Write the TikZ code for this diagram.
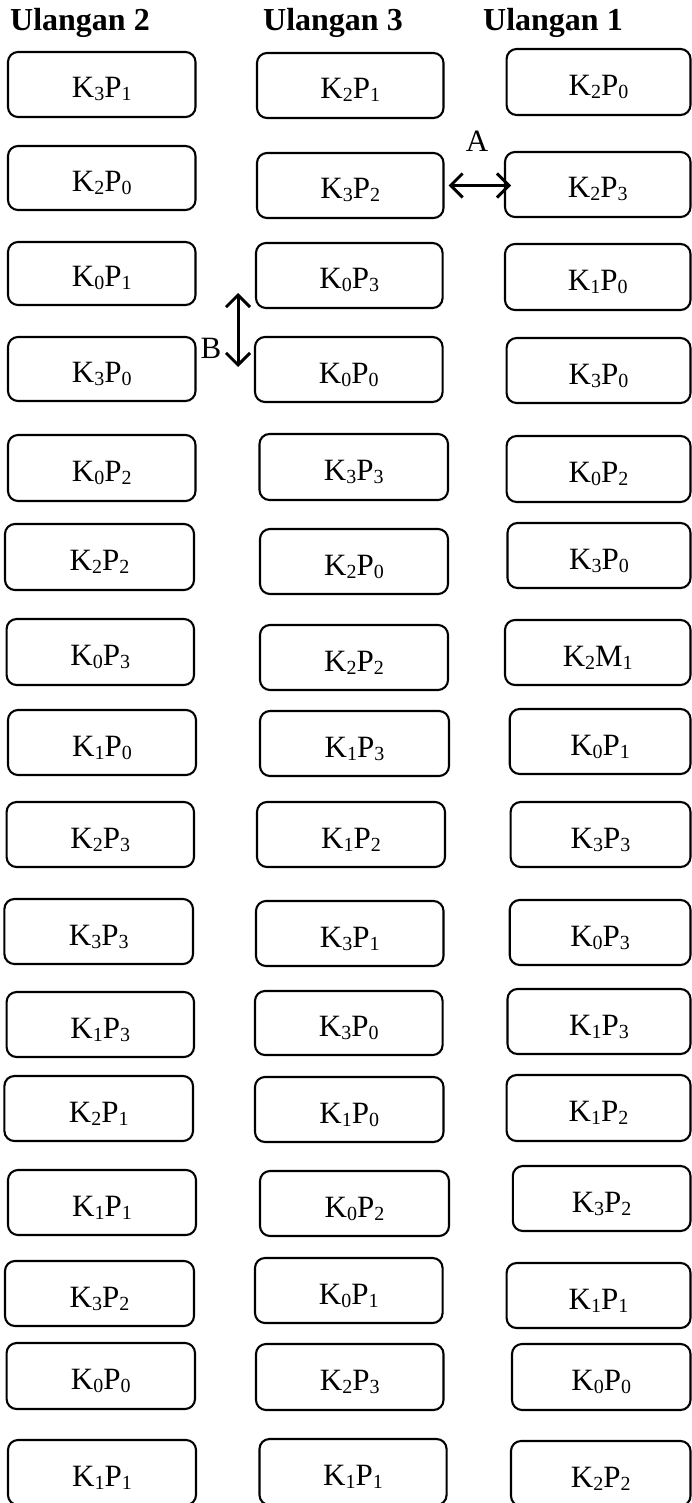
\documentclass[tikz,border=0pt]{standalone}
\usepackage{fontspec}
\setmainfont{Liberation Serif}
\usetikzlibrary{arrows.meta}
\newcommand\sbs[1]{\raisebox{-3pt}{\fontsize{20}{20}\selectfont #1}}
\tikzset{
  pbox/.style={draw, line width=2.1pt, rounded corners=10pt, inner sep=0pt, outer sep=0pt,
    anchor=north west, text height=27pt, text depth=0pt, font=\fontsize{31}{36}\selectfont},
  hdr/.style={anchor=base west, inner sep=0pt, font=\bfseries\fontsize{32}{38}\selectfont},
  lbl/.style={anchor=base, inner sep=0pt, font=\fontsize{31}{36}\selectfont},
  dblarrow/.style={line width=3pt, {Straight Barb[length=12pt,width=24pt]}-{Straight Barb[length=12pt,width=24pt]}}
}
\newcommand\ubox[6]{%
  \pgfmathsetmacro\bw{#4-#2}\pgfmathsetmacro\bh{#5-#3}%
  \node[pbox, minimum width=\bw pt, minimum height=\bh pt] (#1) at (#2,#3) {#6};}
\begin{document}
\begin{tikzpicture}[x=1pt,y=-1pt]
\useasboundingbox (0,0) rectangle (692,1503);
% headers
\node[hdr] (h2) at (10,31) {Ulangan 2};
\node[hdr] (h3) at (263,31) {Ulangan 3};
\node[hdr] (h1) at (483,31) {Ulangan 1};
% column Ulangan 2
\ubox{a1}{8}{52}{195.5}{117}{K\sbs{3}P\sbs{1}}
\ubox{a2}{8}{146}{195.5}{210}{K\sbs{2}P\sbs{0}}
\ubox{a3}{8}{242}{195.5}{305}{K\sbs{0}P\sbs{1}}
\ubox{a4}{8}{337}{195.5}{401}{K\sbs{3}P\sbs{0}}
\ubox{a5}{8}{435}{195.5}{501}{K\sbs{0}P\sbs{2}}
\ubox{a6}{5}{524}{194}{590}{K\sbs{2}P\sbs{2}}
\ubox{a7}{6.6}{619}{194}{685}{K\sbs{0}P\sbs{3}}
\ubox{a8}{8}{710}{196}{775}{K\sbs{1}P\sbs{0}}
\ubox{a9}{6.6}{802}{194}{867}{K\sbs{2}P\sbs{3}}
\ubox{a10}{4.4}{899}{193}{964}{K\sbs{3}P\sbs{3}}
\ubox{a11}{6.6}{992}{194}{1057}{K\sbs{1}P\sbs{3}}
\ubox{a12}{4.4}{1076}{193}{1141}{K\sbs{2}P\sbs{1}}
\ubox{a13}{8}{1170}{196}{1235}{K\sbs{1}P\sbs{1}}
\ubox{a14}{5}{1261}{194}{1326}{K\sbs{3}P\sbs{2}}
\ubox{a15}{6.6}{1343}{195}{1409}{K\sbs{0}P\sbs{0}}
\ubox{a16}{8}{1440}{196}{1505}{K\sbs{1}P\sbs{1}}
% column Ulangan 3
\ubox{b1}{257}{53}{443.5}{118}{K\sbs{2}P\sbs{1}}
\ubox{b2}{257}{153}{443.5}{218}{K\sbs{3}P\sbs{2}}
\ubox{b3}{256}{243}{442.6}{308}{K\sbs{0}P\sbs{3}}
\ubox{b4}{255}{337}{442.6}{402}{K\sbs{0}P\sbs{0}}
\ubox{b5}{259.5}{434}{448}{500}{K\sbs{3}P\sbs{3}}
\ubox{b6}{260}{529}{448}{594}{K\sbs{2}P\sbs{0}}
\ubox{b7}{260}{625}{448}{690}{K\sbs{2}P\sbs{2}}
\ubox{b8}{260}{711}{449}{776}{K\sbs{1}P\sbs{3}}
\ubox{b9}{257}{802}{445}{867}{K\sbs{1}P\sbs{2}}
\ubox{b10}{256}{901}{443.5}{966}{K\sbs{3}P\sbs{1}}
\ubox{b11}{255}{991}{442.6}{1055}{K\sbs{3}P\sbs{0}}
\ubox{b12}{255}{1077}{443.5}{1142}{K\sbs{1}P\sbs{0}}
\ubox{b13}{260}{1171}{449}{1236}{K\sbs{0}P\sbs{2}}
\ubox{b14}{255}{1258}{442.6}{1323}{K\sbs{0}P\sbs{1}}
\ubox{b15}{256}{1344}{443.5}{1410}{K\sbs{2}P\sbs{3}}
\ubox{b16}{259.5}{1439}{446.6}{1505}{K\sbs{1}P\sbs{1}}
% column Ulangan 1
\ubox{c1}{506.6}{49}{690.5}{115}{K\sbs{2}P\sbs{0}}
\ubox{c2}{505}{152}{690.5}{217}{K\sbs{2}P\sbs{3}}
\ubox{c3}{505}{244}{690.5}{310}{K\sbs{1}P\sbs{0}}
\ubox{c4}{506.6}{338}{690.5}{403}{K\sbs{3}P\sbs{0}}
\ubox{c5}{506.6}{436}{690.5}{502}{K\sbs{0}P\sbs{2}}
\ubox{c6}{507.5}{523}{690.5}{588}{K\sbs{3}P\sbs{0}}
\ubox{c7}{505}{620}{690.5}{685}{K\sbs{2}M\sbs{1}}
\ubox{c8}{509.7}{709}{690.5}{774}{K\sbs{0}P\sbs{1}}
\ubox{c9}{510.6}{802}{690.5}{867}{K\sbs{3}P\sbs{3}}
\ubox{c10}{509.7}{900}{690.5}{965}{K\sbs{0}P\sbs{3}}
\ubox{c11}{507.5}{989}{690.5}{1054}{K\sbs{1}P\sbs{3}}
\ubox{c12}{506.6}{1075}{690.5}{1141}{K\sbs{1}P\sbs{2}}
\ubox{c13}{512.8}{1166}{690.5}{1231}{K\sbs{3}P\sbs{2}}
\ubox{c14}{506.6}{1263}{690.5}{1328}{K\sbs{1}P\sbs{1}}
\ubox{c15}{512}{1344}{690.5}{1410}{K\sbs{0}P\sbs{0}}
\ubox{c16}{511}{1441}{690.5}{1506}{K\sbs{2}P\sbs{2}}
% arrow A
\draw[dblarrow] ([xshift=5pt]b2.east) -- ([xshift=6pt]b2.east -| c2.west);
\node[lbl] (la) at (477,152) {A};
% arrow B
\coordinate (bt) at (238,293);
\coordinate (bb) at (238,367);
\draw[dblarrow] (bt) -- (bb);
\node[lbl] (lb) at (211,358) {B};
\end{tikzpicture}
\end{document}
